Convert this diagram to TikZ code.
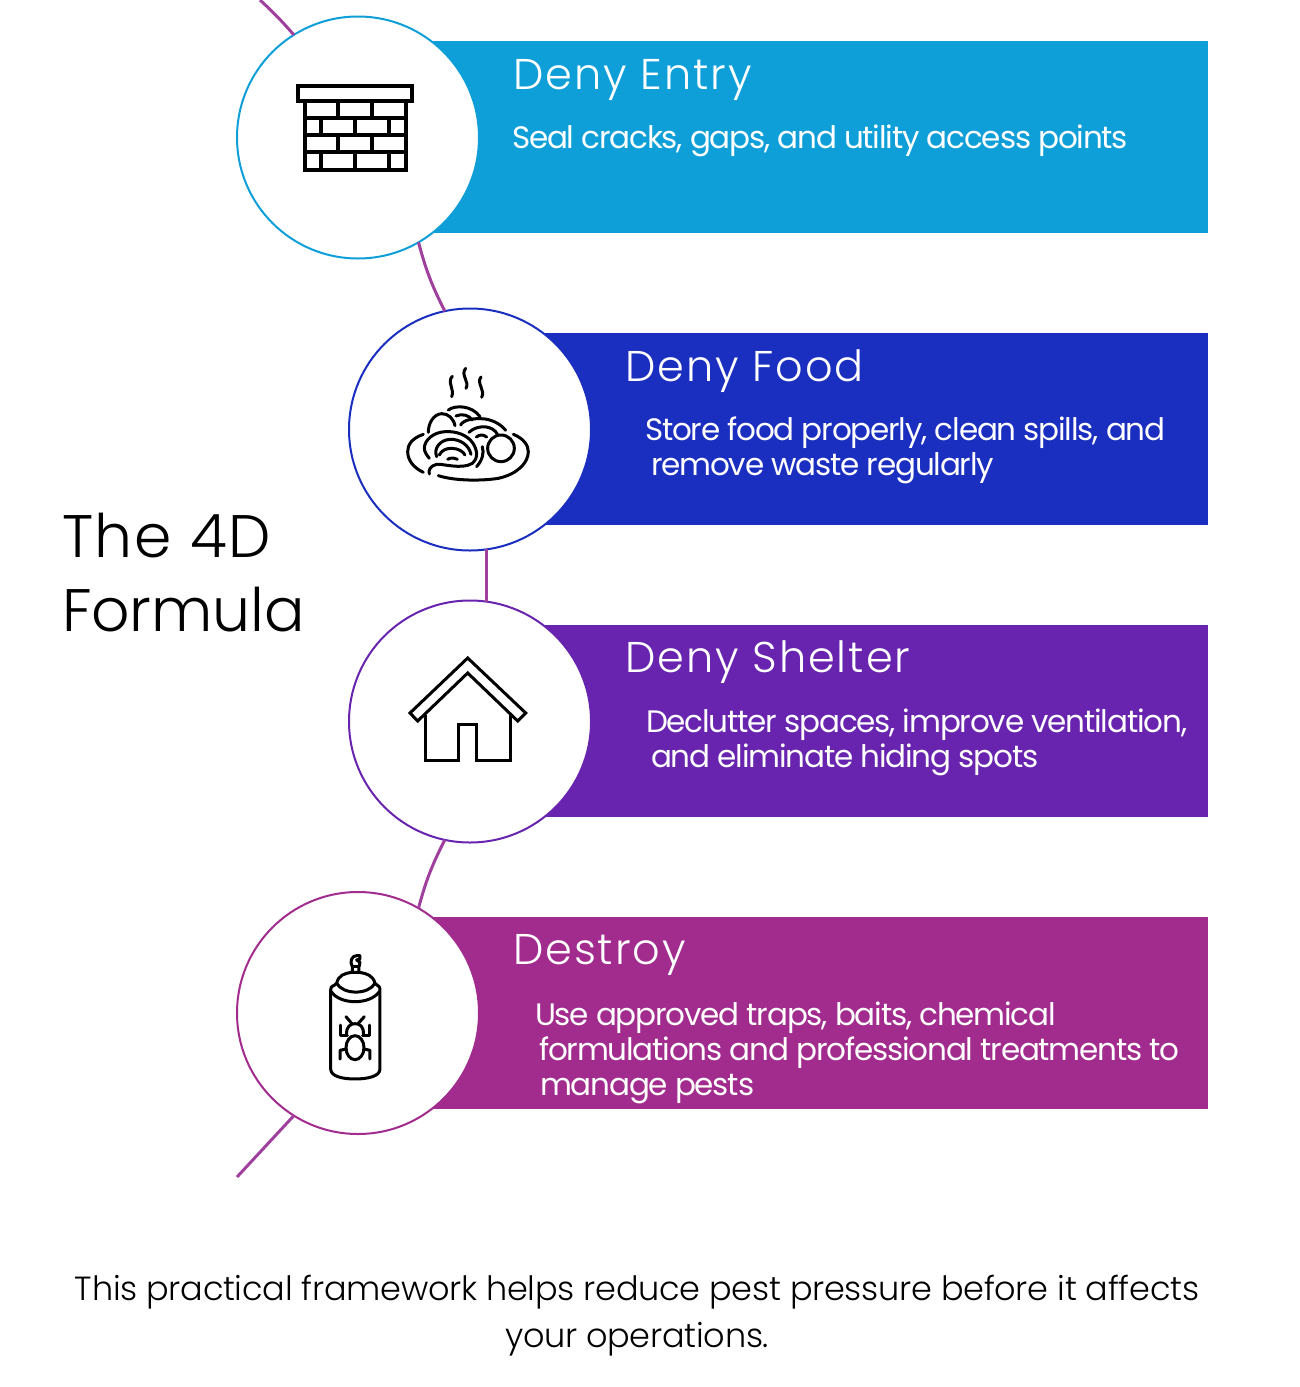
\documentclass[tikz,border=0pt]{standalone}
\usepackage{fontspec}
\setmainfont{Poppins}[UprightFont=* Light,BoldFont=* Regular]
\newfontface\headface{Poppins Light}[LetterSpace=4.6]
\newfontface\bodyface{Poppins}[LetterSpace=-3.8]
\newfontface\noteface{Poppins Light}[LetterSpace=-0.75]
\newfontface\titleface{Poppins Light}[LetterSpace=-0.2]
\newfontface\titlewide{Poppins Light}[LetterSpace=3.0]
\definecolor{cyanbar}{HTML}{0F9FD8}
\definecolor{bluebar}{HTML}{1A2EC0}
\definecolor{violetbar}{HTML}{6824AE}
\definecolor{magentabar}{HTML}{A12C8E}
\definecolor{thread}{HTML}{A0409E}
\tikzset{
  every node/.style={inner sep=0pt,outer sep=0pt},
  bar/.style={rectangle,minimum width=850pt,minimum height=192pt,anchor=west},
  disc/.style={circle,draw=#1,line width=2pt,fill=white,minimum size=242pt},
  head/.style={anchor=base west,text=white,font=\fontsize{43}{43}\selectfont\headface},
  body/.style={anchor=base west,align=left,text=white,font=\fontsize{31}{35}\selectfont\bodyface},
  titletext/.style={anchor=base west,text=black,font=\fontsize{60}{74}\selectfont\titleface},
  note/.style={anchor=base,align=center,text=black,font=\fontsize{33.5}{47}\selectfont\noteface},
  link/.style={draw=thread,line width=3pt},
  icon/.style={draw=black,line width=3pt,line cap=round,line join=round,fill=none},
  brick/.style={draw=black,line width=3.2pt,line cap=butt,line join=miter,fill=none},
}
\begin{document}
\begin{tikzpicture}[x=1pt,y=-1pt]
\useasboundingbox (0,0) rectangle (1300,1387);
% bars
\node[bar,fill=cyanbar] (b1) at (358,137) {};
\node[bar,fill=bluebar,minimum width=738pt] (b2) at (470,429) {};
\node[bar,fill=violetbar,minimum width=738pt] (b3) at (470,721) {};
\node[bar,fill=magentabar] (b4) at (358,1013) {};
% discs
\node[disc=cyanbar] (c1) at (358,137.5) {};
\node[disc=bluebar] (c2) at (470,429.5) {};
\node[disc=violetbar] (c3) at (470,721.5) {};
\node[disc=magentabar] (c4) at (358,1013) {};
% connectors
\coordinate (top) at (260,0);
\coordinate (bottom) at (237,1177);
\draw[link] (top) to[bend left=3] (c1.122);
\draw[link] (c1.-60) to[bend right=6] (c2.102);
\draw[link] (c2.-82) to (c3.82);
\draw[link] (c3.-102) to[bend right=6] (c4.60);
\draw[link] (c4.-122) to (bottom);
% texts
\node[head] (h1) at (513,89) {Deny Entry};
\node[body] (t1) at (512,148) {Seal cracks, gaps, and utility access points};
\node[head] (h2) at (625,381) {Deny Food};
\node[body] (t2) at (645,475) {Store food properly, clean spills, and\\\hspace*{6pt}remove waste regularly};
\node[head] (h3) at (625,672) {Deny Shelter};
\node[body] (t3) at (646,767) {Declutter spaces, improve ventilation,\\\hspace*{5pt}and eliminate hiding spots};
\node[head] (h4) at (513,964) {Destroy};
\node[body] (t4) at (535,1095) {Use approved traps, baits, chemical\\\hspace*{4pt}formulations and professional treatments to\\\hspace*{5pt}manage pests};
\node[titletext,align=left] (title) at (62,631) {{\titlewide The 4D}\\Formula};
\node[note] (foot) at (637,1347) {This practical framework helps reduce pest pressure before it affects\\your operations.};
% brick icon
\draw[brick] (298,86) rectangle (412,101);
\draw[brick] (305,101) rectangle (406,170);
\foreach \yy in {118,135,152} \draw[brick] (305,\yy) -- (406,\yy);
\foreach \xx in {338,372} {\draw[brick] (\xx,101) -- (\xx,118); \draw[brick] (\xx,135) -- (\xx,152);}
\foreach \xx in {321,355,389} {\draw[brick] (\xx,118) -- (\xx,135); \draw[brick] (\xx,152) -- (\xx,170);}
% food icon
\begin{scope}[shift={(395pt,-355pt)},x=0.3333pt,y=-0.3333pt]
\draw[icon] (85,238) .. controls (50,250) and (38,270) .. (38,290) .. controls (38,315) and (55,338) .. (85,352);
\draw[icon] (103,357) .. controls (100,345) and (105,333) .. (125,328) .. controls (140,325) and (200,345) .. (232,325) .. controls (250,310) and (248,285) .. (232,262) .. controls (215,240) and (185,228) .. (150,230) .. controls (115,232) and (88,255) .. (88,280) .. controls (88,290) and (95,300) .. (103,310);
\draw[icon] (125,305) .. controls (115,280) and (135,255) .. (165,253) .. controls (195,252) and (222,270) .. (228,298);
\draw[icon] (133,300) .. controls (140,285) and (155,280) .. (170,280) .. controls (190,280) and (205,290) .. (210,300);
\draw[icon] (158,313) .. controls (165,308) and (178,308) .. (187,313);
\draw[icon] (130,362) .. controls (180,378) and (260,378) .. (310,370) .. controls (365,358) and (400,325) .. (400,290) .. controls (400,270) and (385,250) .. (355,238);
\draw[icon] (318,280) circle[radius=40];
\draw[icon] (245,335) .. controls (262,315) and (268,295) .. (262,275);
\draw[icon] (100,232) .. controls (100,205) and (115,178) .. (140,176) .. controls (160,176) and (175,190) .. (180,212);
\draw[icon] (160,165) .. controls (180,150) and (230,150) .. (255,185);
\draw[icon] (183,183) .. controls (200,175) and (222,180) .. (232,195);
\draw[icon] (197,210) .. controls (205,195) and (235,188) .. (270,192) .. controls (295,195) and (320,210) .. (332,226);
\draw[icon] (222,232) .. controls (240,215) and (270,210) .. (292,222) .. controls (300,227) and (305,232) .. (307,238);
\draw[icon] (244,246) .. controls (255,238) and (265,238) .. (275,246);
\draw[icon] (172,64) .. controls (155,80) and (180,105) .. (170,125);
\draw[icon] (212,40) .. controls (195,60) and (225,80) .. (213,100);
\draw[icon] (258,66) .. controls (243,85) and (272,105) .. (260,127);
\end{scope}
% house icon
\draw[brick,line width=3pt] (467.7,658) -- (525.7,713) -- (517.7,721) -- (467.7,673) -- (417.7,721) -- (410,713) -- cycle;
\draw[brick,line width=3pt] (425.7,715) -- (425.7,760.7) -- (458.3,760.7) -- (458.3,724.3) -- (476.7,724.3) -- (476.7,760.7) -- (510,760.7) -- (510,715);
% spray icon
\begin{scope}[shift={(310pt,-945pt)},x=0.3333pt,y=-0.3333pt]
\draw[icon] (62,135) .. controls (62,120) and (72,125) .. (80,115) .. controls (85,90) and (105,85) .. (125,82) -- (148,82) .. controls (170,85) and (190,92) .. (195,115) .. controls (205,125) and (210,122) .. (210,135) -- (210,372) .. controls (210,395) and (170,402) .. (135,402) .. controls (100,402) and (62,395) .. (62,372) -- cycle;
\draw[icon] (64,140) .. controls (90,180) and (180,180) .. (208,140);
\draw[icon] (80,115) .. controls (100,150) and (175,150) .. (195,115);
\draw[icon] (127,80) -- (127,65) .. controls (118,50) and (125,32) .. (140,32) -- (150,32) -- (150,42) -- (140,45) -- (150,52) -- (147,65) -- (147,80);
\draw[icon] (127,65) -- (147,65);
\draw[icon] (135,308) ellipse[x radius=27,y radius=36];
\draw[icon] (110,268) .. controls (108,245) and (122,236) .. (135,236) .. controls (150,236) and (162,245) .. (160,268);
\draw[icon] (108,215) -- (125,235);
\draw[icon] (163,215) -- (145,235);
\draw[icon] (112,272) -- (90,272) -- (90,240);
\draw[icon] (158,272) -- (180,272) -- (180,240);
\draw[icon] (108,312) -- (90,316) -- (90,342);
\draw[icon] (162,312) -- (180,316) -- (180,342);
\end{scope}
\end{tikzpicture}
\end{document}
